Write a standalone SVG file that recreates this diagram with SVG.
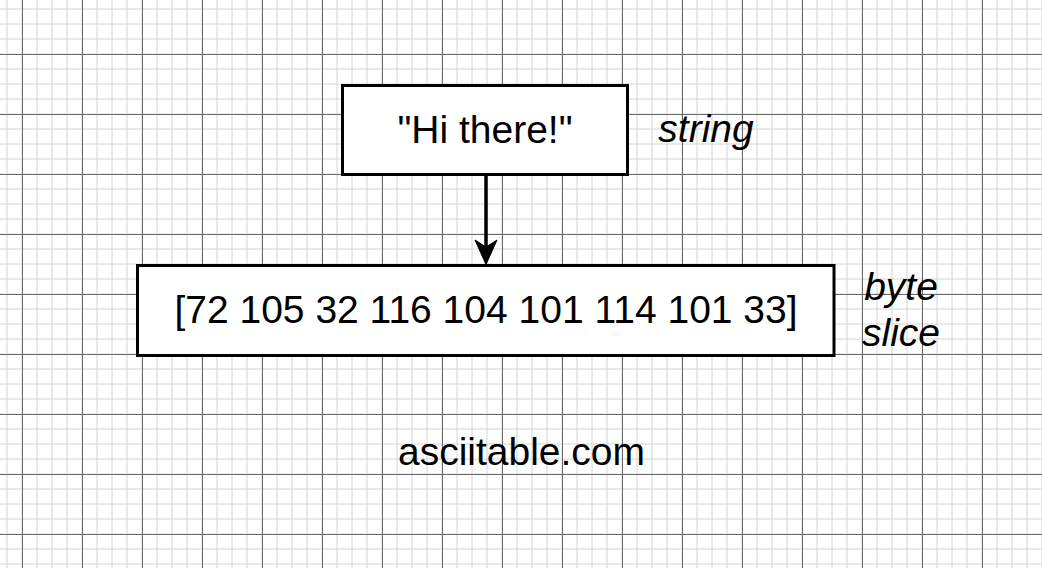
<svg xmlns="http://www.w3.org/2000/svg" width="1042" height="568" viewBox="0 0 1042 568">
<style>
.minor{stroke:#d4d4d4;stroke-width:1;fill:none}
.major{stroke:#6a6a6a;stroke-width:1;fill:none}
.box{fill:#ffffff;stroke:#000000;stroke-width:3}
.t{font-family:"Liberation Sans",Arial,sans-serif;font-size:39px;fill:#000000}
.it{font-style:italic}
.edge{stroke:#000000;stroke-width:3.5;fill:none}
</style>
<rect x="0" y="0" width="1042" height="568" fill="#ffffff"/>
<g id="grid">
<path class="minor" d="M7 0v568m15-568v568m15-568v568m15-568v568m15-568v568m15-568v568m15-568v568m15-568v568m15-568v568m15-568v568
m15-568v568m15-568v568m15-568v568m15-568v568m15-568v568m15-568v568m15-568v568m15-568v568m15-568v568m15-568v568
m15-568v568m15-568v568m15-568v568m15-568v568m15-568v568m15-568v568m15-568v568m15-568v568m15-568v568m15-568v568
m15-568v568m15-568v568m15-568v568m15-568v568m15-568v568m15-568v568m15-568v568m15-568v568m15-568v568m15-568v568
m15-568v568m15-568v568m15-568v568m15-568v568m15-568v568m15-568v568m15-568v568m15-568v568m15-568v568m15-568v568
m15-568v568m15-568v568m15-568v568m15-568v568m15-568v568m15-568v568m15-568v568m15-568v568m15-568v568m15-568v568
m15-568v568m15-568v568m15-568v568m15-568v568m15-568v568m15-568v568m15-568v568m15-568v568m15-568v568m15-568v568"/>
<path class="minor" d="M0 9h1042m-1042 15h1042m-1042 15h1042m-1042 15h1042m-1042 15h1042m-1042 15h1042m-1042 15h1042m-1042 15h1042m-1042 15h1042m-1042 15h1042
m-1042 15h1042m-1042 15h1042m-1042 15h1042m-1042 15h1042m-1042 15h1042m-1042 15h1042m-1042 15h1042m-1042 15h1042m-1042 15h1042m-1042 15h1042
m-1042 15h1042m-1042 15h1042m-1042 15h1042m-1042 15h1042m-1042 15h1042m-1042 15h1042m-1042 15h1042m-1042 15h1042m-1042 15h1042m-1042 15h1042
m-1042 15h1042m-1042 15h1042m-1042 15h1042m-1042 15h1042m-1042 15h1042m-1042 15h1042m-1042 15h1042m-1042 15h1042"/>
<path class="major" d="M22.5 0v568m60-568v568m60-568v568m60-568v568m60-568v568m60-568v568m60-568v568m60-568v568m60-568v568m60-568v568m60-568v568m60-568v568m60-568v568m60-568v568m60-568v568m60-568v568m60-568v568"/>
<path class="major" d="M0 54.5h1042m-1042 60h1042m-1042 60h1042m-1042 60h1042m-1042 60h1042m-1042 60h1042m-1042 60h1042m-1042 60h1042m-1042 60h1042"/>
</g>
<g id="connectors">
<line class="edge" x1="486" y1="175" x2="486" y2="248"/>
<polygon points="486,264.5 475,240 486,247 497,240" fill="#000000" stroke="#000000" stroke-width="1"/>
</g>
<g id="node-string">
<rect class="box" x="342.5" y="85.5" width="285" height="89"/>
<text class="t" x="485" y="142.5" text-anchor="middle">"Hi there!"</text>
</g>
<g id="node-bytes">
<rect class="box" x="137.5" y="265.5" width="696.5" height="90"/>
<text class="t" x="486" y="322.5" text-anchor="middle">[72 105 32 116 104 101 114 101 33]</text>
</g>
<g id="label-string">
<text class="t it" x="706" y="142" text-anchor="middle">string</text>
</g>
<g id="label-byteslice">
<text class="t it" x="901" y="299.5" text-anchor="middle">byte</text>
<text class="t it" x="901" y="346" text-anchor="middle">slice</text>
</g>
<g id="label-site">
<text class="t" x="521.5" y="464.5" text-anchor="middle">asciitable.com</text>
</g>
</svg>
